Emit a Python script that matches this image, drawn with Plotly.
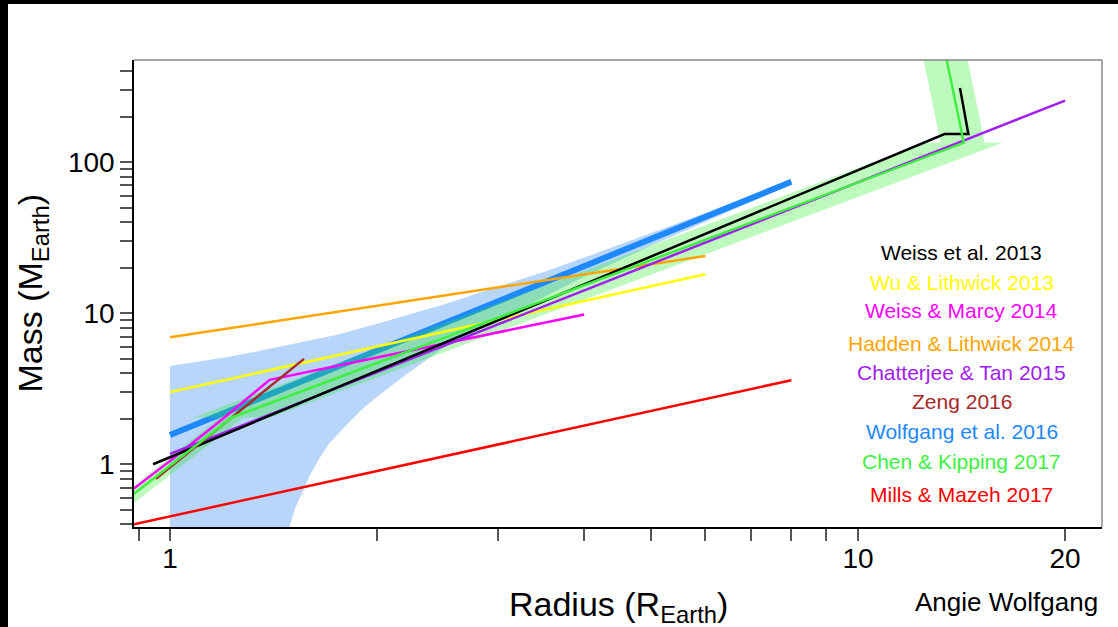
import math
import plotly.graph_objects as go

# ---------------- data ----------------
weiss2013_R = [0.945, 13.36, 14.47, 14.07]
weiss2013_M = [1.0, 153, 153, 309]

wu2013_R = [1.0, 6.0]
wu2013_M = [3.0, 18.1]

weissmarcy2014_R = [0.886, 1.0, 1.2, 1.396, 4.0]
weissmarcy2014_M = [0.69, 1.05, 2.04, 3.62, 9.8]

hadden2014_R = [1.0, 6.0]
hadden2014_M = [6.93, 23.9]

chatterjee2015_R = [1.0, 20.0]
chatterjee2015_M = [1.17, 255]

zeng2016_R = [0.954, 1.566]
zeng2016_M = [0.80, 4.98]

wolfgang2016_R = [1.0, 8.0]
wolfgang2016_M = [1.563, 74.0]
wolfgang_band_R_upper = [1.0, 1.1, 1.2, 1.3, 1.5, 1.75, 2.0, 2.5, 3.0, 3.5, 4.0, 5.0, 6.0, 7.0, 8.0]
wolfgang_band_M_upper = [4.47, 4.77, 5.09, 5.44, 6.25, 7.2, 8.5, 11.4, 15.0, 18.8, 23.3, 33.7, 45.9, 60.1, 76.5]
wolfgang_band_R_lower = [8.0, 7.0, 6.0, 5.0, 4.0, 3.0, 2.5, 2.2, 2.0, 1.9, 1.8, 1.7,
                         1.65, 1.6, 1.55, 1.52, 1.5, 1.47, 1.0]
wolfgang_band_M_lower = [71.2, 54.3, 40.1, 27.9, 17.4, 9.0, 5.9, 3.9, 2.8, 2.3, 1.8, 1.35,
                         1.1, 0.86, 0.63, 0.51, 0.42, 0.30, 0.30]

chen2017_R = [0.886, 1.23, 14.25, 13.45]
chen2017_M = [0.636, 2.04, 134, 480]
chen_terran_band_R = [0.886, 1.18, 1.28, 0.886]
chen_terran_band_M = [0.718, 2.04, 2.04, 0.554]
chen_neptunian_band_R = [1.08, 1.40, 16.23, 12.51]
chen_neptunian_band_M = [2.04, 2.04, 134, 134]
chen_jovian_band_R = [12.45, 14.43, 15.28, 13.18]
chen_jovian_band_M = [480, 480, 134, 134]

mills2017_R = [0.886, 8.0]
mills2017_M = [0.40, 3.6]

legend_labels = ["Weiss et al. 2013", "Wu & Lithwick 2013", "Weiss & Marcy 2014",
                 "Hadden & Lithwick 2014", "Chatterjee & Tan 2015", "Zeng 2016",
                 "Wolfgang et al. 2016", "Chen & Kipping 2017", "Mills & Mazeh 2017"]

x_tickvals = [0.9, 1, 2, 3, 4, 5, 6, 7, 8, 9, 10, 20]
x_ticktext = ["", "1", "", "", "", "", "", "", "", "", "10", "20"]
y_tickvals = [0.4, 0.5, 0.6, 0.7, 0.8, 0.9, 1, 2, 3, 4, 5, 6, 7, 8, 9,
              10, 20, 30, 40, 50, 60, 70, 80, 90, 100, 200, 300, 400]
y_ticktext = ["1" if v == 1 else "10" if v == 10 else "100" if v == 100 else "" for v in y_tickvals]

# ---------------- styling ----------------
C_BLACK = "#000000"
C_YELLOW = "#FFFF00"
C_MAGENTA = "#FF00FF"
C_ORANGE = "#FFA500"
C_PURPLE = "#A020F0"
C_BROWN = "#A52A2A"
C_BLUE = "#1E88FF"
C_GREEN = "#40F040"
C_RED = "#FF0000"
legend_colors = [C_BLACK, C_YELLOW, C_MAGENTA, C_ORANGE, C_PURPLE, C_BROWN, C_BLUE, C_GREEN, C_RED]
legend_ypix = [252.7, 282.3, 310, 343.3, 372.3, 401.7, 431, 461.7, 494.3]

FONT = "Liberation Sans, Arial, sans-serif"
W, H = 1118, 627
L, R, T, B = 134, 16, 60, 100
PW, PH = W - L - R, H - T - B

fig = go.Figure()


def band(xs, ys, color):
    fig.add_trace(go.Scatter(x=xs, y=ys, mode="lines", fill="toself", fillcolor=color,
                             line=dict(width=0), hoverinfo="skip", showlegend=False))


def line(xs, ys, color, width=2.5):
    fig.add_trace(go.Scatter(x=xs, y=ys, mode="lines", line=dict(color=color, width=width),
                             hoverinfo="skip", showlegend=False))


# Wolfgang band + line (beneath the green band)
band(wolfgang_band_R_upper + wolfgang_band_R_lower,
     wolfgang_band_M_upper + wolfgang_band_M_lower, "rgba(20,120,240,0.30)")
line(wolfgang2016_R, wolfgang2016_M, C_BLUE, 6)

# Chen & Kipping bands
GREEN_BAND = "rgba(40,235,40,0.30)"
band(chen_terran_band_R, chen_terran_band_M, GREEN_BAND)
band(chen_neptunian_band_R, chen_neptunian_band_M, GREEN_BAND)
band(chen_jovian_band_R, chen_jovian_band_M, GREEN_BAND)

# other relations
line(wu2013_R, wu2013_M, C_YELLOW)
line(weissmarcy2014_R, weissmarcy2014_M, C_MAGENTA)
line(hadden2014_R, hadden2014_M, C_ORANGE)
line(chatterjee2015_R, chatterjee2015_M, C_PURPLE)
line(weiss2013_R, weiss2013_M, C_BLACK)
line(zeng2016_R, zeng2016_M, C_BROWN)
line(chen2017_R, chen2017_M, C_GREEN)
line(mills2017_R, mills2017_M, C_RED)


def px_x(px):
    return (px - L) / PW


def px_y(py):
    return (H - B - py) / PH


annotations = []
for lab, col, py in zip(legend_labels, legend_colors, legend_ypix):
    annotations.append(dict(text=lab, x=px_x(961.7), y=px_y(py), xref="paper", yref="paper",
                            xanchor="center", yanchor="middle", showarrow=False,
                            font=dict(family=FONT, size=21, color=col)))
annotations.append(dict(text="Mass (M<sub>Earth</sub>)", x=px_x(32), y=0.5, xref="paper", yref="paper",
                        textangle=-90, xanchor="center", yanchor="middle", showarrow=False,
                        font=dict(family=FONT, size=34, color="black")))
annotations.append(dict(text="Radius (R<sub>Earth</sub>)", x=0.5, y=px_y(606), xref="paper", yref="paper",
                        xanchor="center", yanchor="middle", showarrow=False,
                        font=dict(family=FONT, size=34, color="black")))
annotations.append(dict(text="Angie Wolfgang", x=px_x(1006), y=px_y(602), xref="paper", yref="paper",
                        xanchor="center", yanchor="middle", showarrow=False,
                        font=dict(family=FONT, size=26, color="black")))

shapes = [
    # grey box top and right
    dict(type="line", xref="paper", yref="paper", x0=0, x1=1, y0=1, y1=1,
         line=dict(color="#888888", width=1.5), layer="above"),
    dict(type="line", xref="paper", yref="paper", x0=1, x1=1, y0=0, y1=1,
         line=dict(color="#888888", width=1.5), layer="above"),
    # black frame strips of the picture
    dict(type="rect", xref="paper", yref="paper", x0=px_x(0), x1=px_x(8), y0=px_y(H + 5), y1=px_y(-5),
         line=dict(width=0), fillcolor="black", layer="above"),
    dict(type="rect", xref="paper", yref="paper", x0=px_x(-5), x1=px_x(W + 5), y0=px_y(4), y1=px_y(-5),
         line=dict(width=0), fillcolor="black", layer="above"),
]

fig.update_layout(
    width=W, height=H,
    margin=dict(l=L, r=R, t=T, b=B),
    paper_bgcolor="white", plot_bgcolor="white",
    showlegend=False,
    font=dict(family=FONT, color="black"),
    annotations=annotations,
    shapes=shapes,
    xaxis=dict(type="log", range=[-0.0523, 1.3547],
               tickvals=x_tickvals, ticktext=x_ticktext,
               ticks="outside", ticklen=12, tickwidth=1.5, tickcolor="#555555",
               ticklabelstandoff=-6,
               showline=True, linecolor="black", linewidth=1.5,
               showgrid=False, zeroline=False,
               tickfont=dict(family=FONT, size=28, color="black")),
    yaxis=dict(type="log", range=[-0.4152, 2.675],
               tickvals=y_tickvals, ticktext=y_ticktext,
               ticks="outside", ticklen=12, tickwidth=1.5, tickcolor="#555555",
               showline=True, linecolor="black", linewidth=1.5,
               showgrid=False, zeroline=False,
               tickfont=dict(family=FONT, size=28, color="black")),
)

fig.write_html("out.html")
